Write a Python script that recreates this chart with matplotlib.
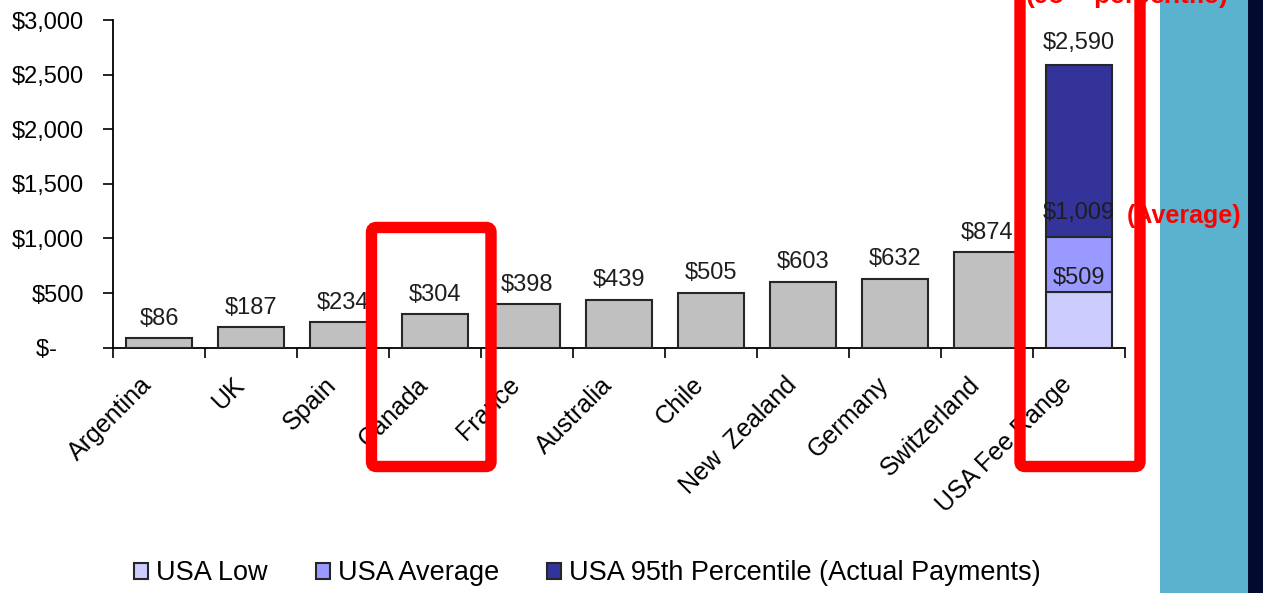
import matplotlib.pyplot as plt
from matplotlib.patches import FancyBboxPatch, Rectangle
from matplotlib.ticker import FuncFormatter, FixedLocator
import matplotlib.transforms as mtransforms
import numpy as np

plt.rcParams["font.family"] = ["Liberation Sans", "DejaVu Sans"]

countries = ["Argentina", "UK", "Spain", "Canada", "France", "Australia",
             "Chile", "New  Zealand", "Germany", "Switzerland", "USA Fee Range"]
fees = [86, 187, 234, 304, 398, 439, 505, 603, 632, 874]

usa_low = 509
usa_avg = 1009
usa_95 = 2590

W, H = 1263, 593
fig = plt.figure(figsize=(W / 100, H / 100), dpi=100)
ax = fig.add_axes([113 / W, 1 - 347.7 / H, 1012 / W, 327.7 / H])

x = np.arange(len(countries))
bw = 0.72
edge = "#262626"

ax.bar(x[:-1], fees, width=bw, color="#C0C0C0", edgecolor=edge, linewidth=1.5, zorder=3)

# stacked USA range
ux = x[-1]
b1 = ax.bar(ux, usa_low, width=bw, color="#CCCCFF", edgecolor=edge, linewidth=1.5, zorder=3)
b2 = ax.bar(ux, usa_avg - usa_low, bottom=usa_low, width=bw, color="#9999FF",
            edgecolor=edge, linewidth=1.5, zorder=3)
b3 = ax.bar(ux, usa_95 - usa_avg, bottom=usa_avg, width=bw, color="#333399",
            edgecolor=edge, linewidth=1.5, zorder=3)

lab_kw = dict(ha="center", va="bottom", fontsize=17, color="#1e1e1e",
              textcoords="offset points", zorder=4)
for xi, v in zip(x[:-1], fees):
    ax.annotate(f"${v:,}", (xi, v), xytext=(0, 6), **lab_kw)
ax.annotate(f"${usa_low:,}", (ux, usa_low), xytext=(0, 2), **lab_kw)
ax.annotate(f"${usa_avg:,}", (ux, usa_avg), xytext=(0, 10), **lab_kw)
ax.annotate(f"${usa_95:,}", (ux, usa_95), xytext=(0, 8), **lab_kw)

ax.set_xlim(-0.5, len(countries) - 0.5)
ax.set_ylim(0, 3000)
ax.set_yticks(np.arange(0, 3001, 500))
ax.yaxis.set_major_formatter(FuncFormatter(lambda v, p: "$-    " if v == 0 else f"${int(v):,}"))
ax.tick_params(axis="y", length=7, width=1.2, pad=14, labelsize=17, direction="out")

ax.set_xticks(x)
ax.set_xticklabels(countries, rotation=45, ha="right", va="top",
                   rotation_mode="anchor", fontsize=18)
ax.tick_params(axis="x", length=0, pad=18)
ax.xaxis.set_minor_locator(FixedLocator(np.arange(-0.5, len(countries), 1.0)))
ax.tick_params(axis="x", which="minor", length=7, width=1.2, direction="out")
shift = mtransforms.ScaledTranslation(-19 / 100, 0, fig.dpi_scale_trans)
for t in ax.get_xticklabels():
    t.set_transform(t.get_transform() + shift)

for s in ["top", "right"]:
    ax.spines[s].set_visible(False)
for s in ["left", "bottom"]:
    ax.spines[s].set_linewidth(1.3)

fig.legend([b1, b2, b3], ["USA Low", "USA Average", "USA 95th Percentile (Actual Payments)"],
           loc="center", bbox_to_anchor=(0.465, 0.033), ncol=3, frameon=False,
           fontsize=19.5, handlelength=0.52, handleheight=0.52, handletextpad=0.3,
           columnspacing=1.78)

# overlay in pixel space for the side panel and highlight boxes
ov = fig.add_axes([0, 0, 1, 1], zorder=5)
ov.set_xlim(0, W)
ov.set_ylim(H, 0)
ov.axis("off")
ov.patch.set_alpha(0)

ov.add_patch(Rectangle((1160, 0), 88, H, facecolor="#5BB2CF", edgecolor="none", zorder=1))
ov.add_patch(Rectangle((1248, 0), 15, H, facecolor="#000B2F", edgecolor="none", zorder=1))

ov.text(1126, 4, r"(95$^{\mathbf{th}}$ percentile)", color="#FF0000", fontsize=19,
        fontweight="bold", ha="center", va="baseline", zorder=2)
ov.text(1127, 216, "(Average)", color="#FF0000", fontsize=18,
        fontweight="bold", ha="left", va="center", zorder=2)

box_kw = dict(boxstyle="round,pad=0,rounding_size=5", linewidth=8.2,
              edgecolor="#FF0000", facecolor="none", zorder=3)
ov.add_patch(FancyBboxPatch((371.5, 227.5), 119.5, 239, **box_kw))
ov.add_patch(FancyBboxPatch((1020, -40), 120, 506.5, **box_kw))

fig.savefig("out.png", dpi=100)
